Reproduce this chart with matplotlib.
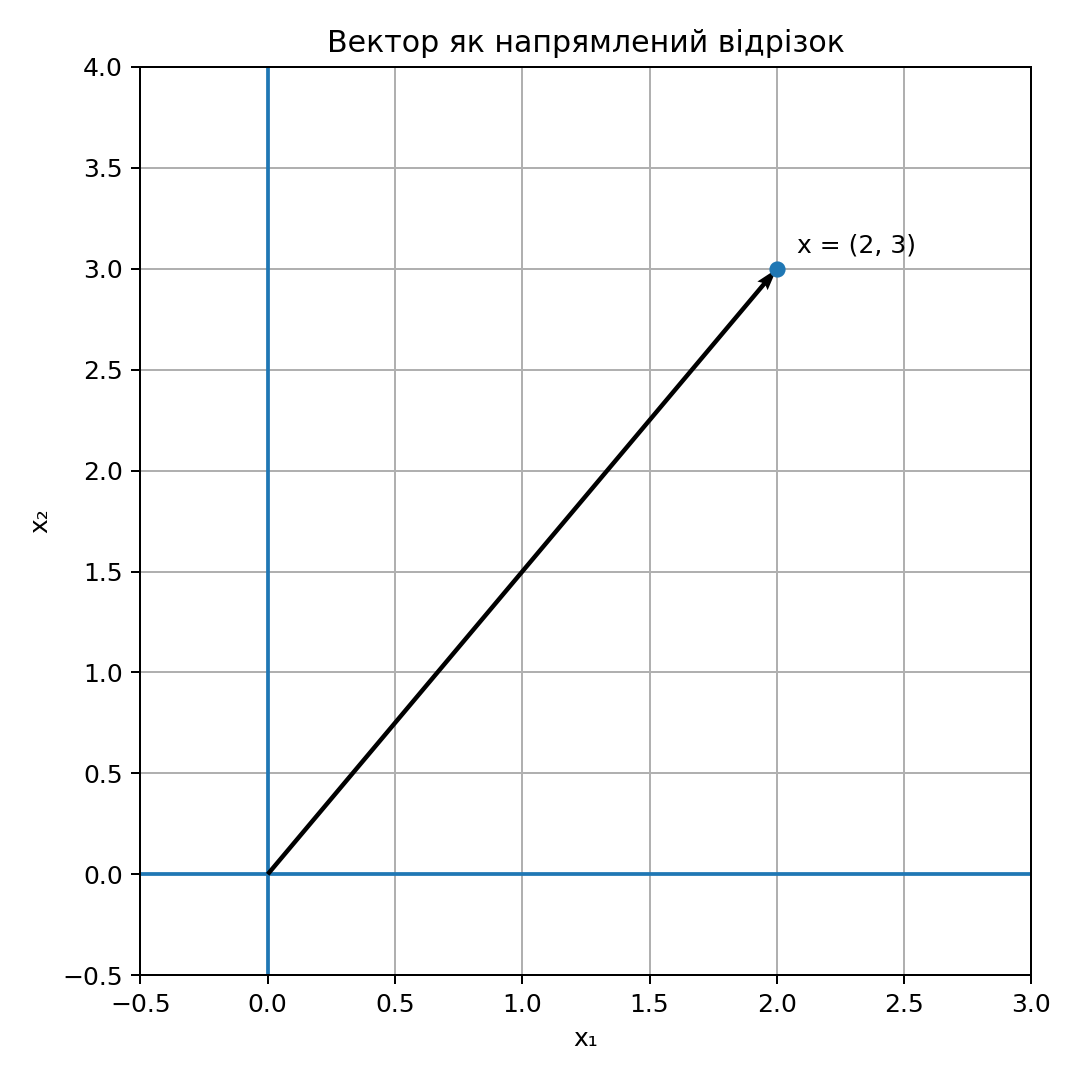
import matplotlib
matplotlib.use("Agg")
import matplotlib.pyplot as plt

vec = [2, 3]
xlim = [-0.5, 3.0]
ylim = [-0.5, 4.0]

fig, ax = plt.subplots(figsize=(6, 6), dpi=180)
fig.subplots_adjust(left=0.13, right=0.955, bottom=0.097, top=0.938)
ax.axhline(0, color="C0", lw=1.5)
ax.axvline(0, color="C0", lw=1.5)
ax.quiver(0, 0, vec[0], vec[1], angles="xy", scale_units="xy", scale=1, color="black", width=0.005, zorder=3)
ax.scatter([vec[0]], [vec[1]], color="C0", s=30, zorder=4)
ax.text(vec[0] + 0.08, vec[1] + 0.08, f"x = ({vec[0]}, {vec[1]})", fontsize=10)
ax.set_xlim(*xlim)
ax.set_ylim(*ylim)
ax.grid(True)
ax.set_axisbelow(True)
ax.set_xlabel("x₁")
ax.set_ylabel("x₂")
ax.set_title("Вектор як напрямлений відрізок")
fig.savefig("out.png", dpi=180)
